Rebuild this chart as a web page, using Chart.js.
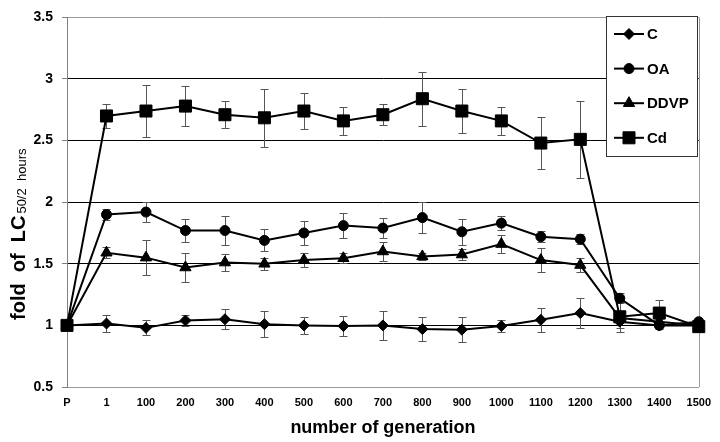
<!DOCTYPE html>
<html><head><meta charset="utf-8">
<script src="https://cdn.jsdelivr.net/npm/chart.js@4/dist/chart.umd.min.js"></script>
<style>html,body{margin:0;padding:0;background:#fff}</style>
</head><body>
<canvas id="c" width="720" height="442" style="width:720px;height:442px;display:block"></canvas>
<script>
// ---- data ----
const generations = ['P','1','100','200','300','400','500','600','700','800','900','1000','1100','1200','1300','1400','1500'];
const seriesNames = ['C','OA','DDVP','Cd'];
const cValues    = [1.00,1.015,0.98,1.04,1.05,1.01,1.00,0.995,1.00,0.97,0.965,0.995,1.045,1.10,1.03,1.00,1.00];
const cErrors    = [0,0.07,0.06,0.045,0.08,0.105,0.07,0.08,0.115,0.095,0.10,0.048,0.095,0.12,0.05,0.03,0];
const oaValues   = [1.00,1.90,1.92,1.77,1.77,1.69,1.75,1.81,1.79,1.875,1.76,1.83,1.72,1.70,1.22,1.00,1.03];
const oaErrors   = [0,0.045,0.08,0.09,0.12,0.09,0.10,0.10,0.08,0.125,0.105,0.055,0.045,0.04,0.04,0,0];
const ddvpValues = [1.00,1.59,1.55,1.47,1.51,1.50,1.53,1.545,1.60,1.56,1.575,1.66,1.53,1.49,1.06,1.03,1.00];
const ddvpErrors = [0,0.045,0.14,0.12,0.07,0.05,0.055,0.04,0.08,0.03,0.045,0.07,0.095,0.055,0.03,0.02,0];
const cdValues   = [1.00,2.70,2.74,2.78,2.71,2.685,2.74,2.66,2.71,2.84,2.74,2.66,2.48,2.51,1.07,1.10,0.99];
const cdErrors   = [0,0.10,0.21,0.16,0.11,0.235,0.145,0.115,0.085,0.22,0.175,0.115,0.21,0.31,0.12,0.11,0];
const yMin = 0.5, yMax = 3.5, yStep = 0.5;
const xTitle = 'number of generation';
const yTitleMain = 'fold  of  LC';
const yTitleSub = '50/2  hours';

const FONT = "'Liberation Sans', Arial, sans-serif";

const errorBars = {
  id: 'errorBars',
  beforeDatasetsDraw(chart) {
    const {ctx, scales: {x, y}, chartArea} = chart;
    ctx.save();
    // right border of the plot
    ctx.strokeStyle = '#9a9a9a'; ctx.lineWidth = 1;
    ctx.beginPath();
    ctx.moveTo(Math.round(chartArea.right) + 0.5, chartArea.top);
    ctx.lineTo(Math.round(chartArea.right) + 0.5, chartArea.bottom);
    ctx.stroke();
    ctx.strokeStyle = '#555'; ctx.lineWidth = 1;
    chart.data.datasets.forEach(ds => {
      ds.errors.forEach((e, i) => {
        if (!e) return;
        const px = Math.round(x.getPixelForValue(i)) + 0.5;
        const top = Math.round(y.getPixelForValue(ds.data[i] + e)) + 0.5;
        const bot = Math.round(y.getPixelForValue(ds.data[i] - e)) + 0.5;
        ctx.beginPath();
        ctx.moveTo(px, top); ctx.lineTo(px, bot);
        ctx.moveTo(px - 4, top); ctx.lineTo(px + 4, top);
        ctx.moveTo(px - 4, bot); ctx.lineTo(px + 4, bot);
        ctx.stroke();
      });
    });
    ctx.restore();
  }
};

const customText = {
  id: 'customText',
  afterDraw(chart) {
    const ctx = chart.ctx;
    // y-axis title with subscript
    ctx.save();
    ctx.translate(25, 320);
    ctx.rotate(-Math.PI / 2);
    ctx.fillStyle = '#000';
    ctx.textBaseline = 'alphabetic';
    ctx.textAlign = 'left';
    ctx.font = 'bold 20px ' + FONT;
    ctx.fillText(yTitleMain, 0, 0);
    const w = ctx.measureText(yTitleMain).width;
    ctx.font = '13px ' + FONT;
    ctx.fillText(yTitleSub, w + 2, 1);
    ctx.restore();

    // legend
    const bx = 606.5, by = 16.5, bw = 91, bh = 140;
    ctx.save();
    ctx.fillStyle = '#fff';
    ctx.fillRect(bx, by, bw, bh);
    ctx.strokeStyle = '#333'; ctx.lineWidth = 1;
    ctx.strokeRect(bx, by, bw, bh);
    chart.data.datasets.forEach((ds, i) => {
      const cy = 34 + i * 34.6;
      ctx.strokeStyle = '#000'; ctx.lineWidth = 2;
      ctx.beginPath(); ctx.moveTo(614, cy); ctx.lineTo(644, cy); ctx.stroke();
      ctx.fillStyle = '#000'; ctx.strokeStyle = '#000'; ctx.lineWidth = 1;
      Chart.helpers.drawPoint(ctx, {pointStyle: ds.pointStyle, radius: ds.pointRadius, rotation: 0, borderWidth: 1}, 629, cy);
      ctx.font = 'bold 15px ' + FONT;
      ctx.textBaseline = 'middle'; ctx.textAlign = 'left';
      ctx.fillText(ds.label, 647, cy + 1);
    });
    ctx.restore();
  }
};

function mk(label, data, errors, style, radius, order) {
  return {
    label, data, errors, order,
    borderColor: '#000', backgroundColor: '#000', borderWidth: 2,
    pointStyle: style, pointRadius: radius, pointHoverRadius: radius,
    pointBackgroundColor: '#000', pointBorderColor: '#000', pointBorderWidth: 1,
    tension: 0, fill: false
  };
}

new Chart(document.getElementById('c'), {
  type: 'line',
  data: {
    labels: generations,
    datasets: [
      mk(seriesNames[0], cValues, cErrors, 'rectRot', 5.5, 4),
      mk(seriesNames[1], oaValues, oaErrors, 'circle', 5, 3),
      mk(seriesNames[2], ddvpValues, ddvpErrors, 'triangle', 6.5, 2),
      mk(seriesNames[3], cdValues, cdErrors, 'rect', 8.5, 1)
    ]
  },
  options: {
    responsive: false,
    animation: false,
    devicePixelRatio: 1,
    layout: {padding: {left: 0, top: 9, right: 16, bottom: 0}},
    plugins: {legend: {display: false}, tooltip: {enabled: false}},
    scales: {
      x: {
        type: 'category',
        offset: false,
        grid: {display: false, drawTicks: false},
        border: {display: true, color: '#9a9a9a', width: 1},
        ticks: {autoSkip: false, maxRotation: 0, padding: 9, color: '#000',
                font: {family: FONT, size: 11, weight: 'bold'}},
        title: {display: true, text: xTitle, color: '#000', padding: {top: 0, bottom: 3},
                font: {family: FONT, size: 18, weight: 'bold'}},
        afterFit(s) { s.height = 55; }
      },
      y: {
        min: yMin, max: yMax,
        ticks: {stepSize: yStep, padding: 9, color: '#000',
                callback: v => String(Number(v)),
                font: {family: FONT, size: 14, weight: 'bold'}},
        grid: {
          color: c => (c.tick && (c.tick.value === yMax || c.tick.value === yMin)) ? '#9a9a9a' : '#000',
          tickColor: '#808080', tickLength: 5, lineWidth: 1
        },
        border: {display: true, color: '#808080', width: 1},
        afterFit(s) { s.width = 67; }
      }
    }
  },
  plugins: [errorBars, customText]
});
</script>
</body></html>
